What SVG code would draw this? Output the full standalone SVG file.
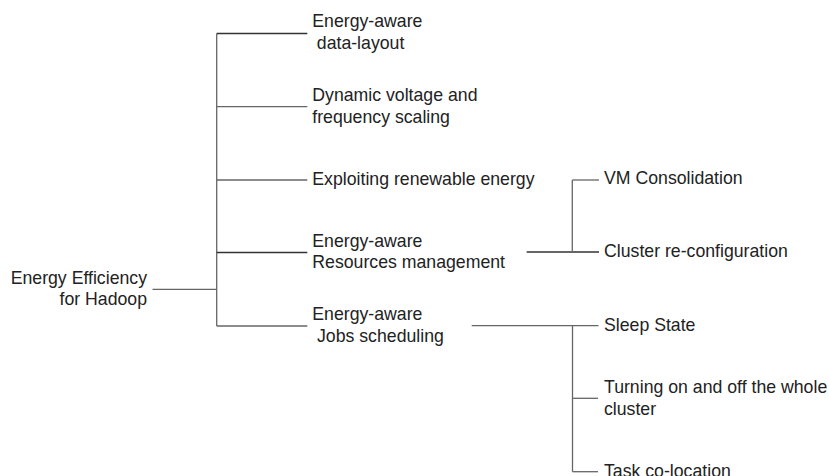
<svg xmlns="http://www.w3.org/2000/svg" width="829" height="476" viewBox="0 0 829 476">
<style>
text{font-family:"Liberation Sans",Arial,sans-serif;font-size:17.7px;fill:#222}
.r{text-anchor:end}
.c line{stroke:#666;stroke-width:1.3;fill:none}
.c line.d{stroke:#333}
</style>
<rect width="829" height="476" fill="#fff"/>
<g class="c" id="connectors">
<line x1="152.5" y1="289.3" x2="216.7" y2="289.3"/>
<line x1="216.7" y1="33.5" x2="216.7" y2="326"/>
<line class="d" x1="216.7" y1="33.5" x2="307.3" y2="33.5"/>
<line x1="216.7" y1="106.7" x2="307.3" y2="106.7"/>
<line x1="216.7" y1="180" x2="307.3" y2="180"/>
<line class="d" x1="216.7" y1="252.5" x2="307.3" y2="252.5"/>
<line x1="216.7" y1="326" x2="307.3" y2="326"/>
<line class="d" x1="526.7" y1="252" x2="599" y2="252"/>
<line x1="572.3" y1="180" x2="572.3" y2="252"/>
<line x1="572.3" y1="180" x2="599" y2="180"/>
<line x1="471.7" y1="325.7" x2="598.5" y2="325.7"/>
<line x1="572.5" y1="325.7" x2="572.5" y2="471.7"/>
<line x1="572.5" y1="398.3" x2="598" y2="398.3"/>
<line x1="572.5" y1="471.7" x2="598" y2="471.7"/>
</g>
<g id="root"><text class="r" x="147" y="283.5">Energy Efficiency</text><text class="r" x="147" y="305">for Hadoop</text></g>
<g id="n1"><text x="312.3" y="27.3">Energy-aware</text><text x="316.8" y="48.5">data-layout</text></g>
<g id="n2"><text x="312.3" y="100.7">Dynamic voltage and</text><text x="312.3" y="122.5">frequency scaling</text></g>
<g id="n3"><text x="312.3" y="185">Exploiting renewable energy</text></g>
<g id="n4"><text x="312.3" y="246.7">Energy-aware</text><text x="312.3" y="268.3">Resources management</text></g>
<g id="n5"><text x="312.3" y="320">Energy-aware</text><text x="317" y="341.7">Jobs scheduling</text></g>
<g id="n6"><text x="604" y="184.3">VM Consolidation</text></g>
<g id="n7"><text x="604" y="256.5">Cluster re-configuration</text></g>
<g id="n8"><text x="604" y="330.7">Sleep State</text></g>
<g id="n9"><text x="604" y="393.3">Turning on and off the whole</text><text x="604" y="414.5">cluster</text></g>
<g id="n10"><text x="604" y="477">Task co-location</text></g>
</svg>
